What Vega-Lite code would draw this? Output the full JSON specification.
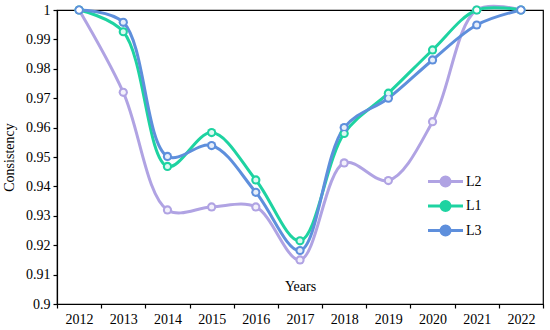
{
  "$schema": "https://vega.github.io/schema/vega-lite/v6.json",
  "autosize": "none",
  "width": 486,
  "height": 294,
  "padding": {"left": 57, "top": 10, "right": 7, "bottom": 26},
  "background": "white",
  "config": {
    "font": "Liberation Serif",
    "view": {"stroke": "black", "strokeWidth": 1.2},
    "axis": {"labelFont": "Liberation Serif", "titleFont": "Liberation Serif", "labelFontSize": 14, "titleFontSize": 14, "titleFontWeight": "normal", "labelColor": "black", "titleColor": "black", "domainColor": "black", "tickColor": "black", "grid": false, "domainWidth": 1.2, "tickWidth": 1.2}
  },
  "data": {"values": [
    {"year": "2012", "series": "L2", "value": 1.0},
    {"year": "2013", "series": "L2", "value": 0.972},
    {"year": "2014", "series": "L2", "value": 0.932},
    {"year": "2015", "series": "L2", "value": 0.933},
    {"year": "2016", "series": "L2", "value": 0.933},
    {"year": "2017", "series": "L2", "value": 0.915},
    {"year": "2018", "series": "L2", "value": 0.948},
    {"year": "2019", "series": "L2", "value": 0.942},
    {"year": "2020", "series": "L2", "value": 0.962},
    {"year": "2021", "series": "L2", "value": 1.0},
    {"year": "2022", "series": "L2", "value": 1.0},
    {"year": "2012", "series": "L1", "value": 1.0},
    {"year": "2013", "series": "L1", "value": 0.9926},
    {"year": "2014", "series": "L1", "value": 0.9468},
    {"year": "2015", "series": "L1", "value": 0.9583},
    {"year": "2016", "series": "L1", "value": 0.9422},
    {"year": "2017", "series": "L1", "value": 0.9215},
    {"year": "2018", "series": "L1", "value": 0.958},
    {"year": "2019", "series": "L1", "value": 0.9717},
    {"year": "2020", "series": "L1", "value": 0.9864},
    {"year": "2021", "series": "L1", "value": 1.0},
    {"year": "2022", "series": "L1", "value": 1.0},
    {"year": "2012", "series": "L3", "value": 1.0},
    {"year": "2013", "series": "L3", "value": 0.9958},
    {"year": "2014", "series": "L3", "value": 0.9502},
    {"year": "2015", "series": "L3", "value": 0.9539},
    {"year": "2016", "series": "L3", "value": 0.938},
    {"year": "2017", "series": "L3", "value": 0.9182},
    {"year": "2018", "series": "L3", "value": 0.96},
    {"year": "2019", "series": "L3", "value": 0.97},
    {"year": "2020", "series": "L3", "value": 0.983},
    {"year": "2021", "series": "L3", "value": 0.9949},
    {"year": "2022", "series": "L3", "value": 1.0}
  ]},
  "encoding": {
    "x": {"field": "year", "type": "ordinal", "bandPosition": 0.5,
      "scale": {"type": "band", "paddingInner": 0, "paddingOuter": 0},
      "axis": {"title": "Years", "labelAngle": 0, "tickBand": "extent", "tickSize": 4, "labelPadding": 4, "titleY": -14, "titleBaseline": "alphabetic"}},
    "y": {"field": "value", "type": "quantitative",
      "scale": {"domain": [0.9, 1.0], "nice": false, "zero": false},
      "axis": {"title": "Consistency", "values": [0.9, 0.91, 0.92, 0.93, 0.94, 0.95, 0.96, 0.97, 0.98, 0.99, 1.0], "format": ".2~f", "tickSize": 4, "labelPadding": 3, "titlePadding": 9}},
    "color": {"field": "series", "type": "nominal",
      "scale": {"domain": ["L2", "L1", "L3"], "range": ["#b0a3e3", "#1ed3a1", "#5e8fdc"]},
      "legend": {"title": null, "orient": "none", "legendX": 377, "legendY": 160,
        "symbolType": "M-1.75,0L-0.45,0M0.45,0L1.75,0M-0.45,0A0.45,0.45,0,1,1,0.45,0A0.45,0.45,0,1,1,-0.45,0",
        "symbolSize": 400, "symbolStrokeWidth": 3, "symbolFillColor": "white",
        "labelFont": "Liberation Serif", "labelFontSize": 14, "labelColor": "black", "labelOffset": 9, "rowPadding": 2.5}}
  },
  "layer": [
    {"mark": {"type": "line", "interpolate": "catmull-rom", "strokeWidth": 3}},
    {"mark": {"type": "circle", "size": 85, "opacity": 1}},
    {"mark": {"type": "circle", "size": 25, "color": "white", "opacity": 0.85}, "encoding": {"color": {"value": "white"}}}
  ]
}
